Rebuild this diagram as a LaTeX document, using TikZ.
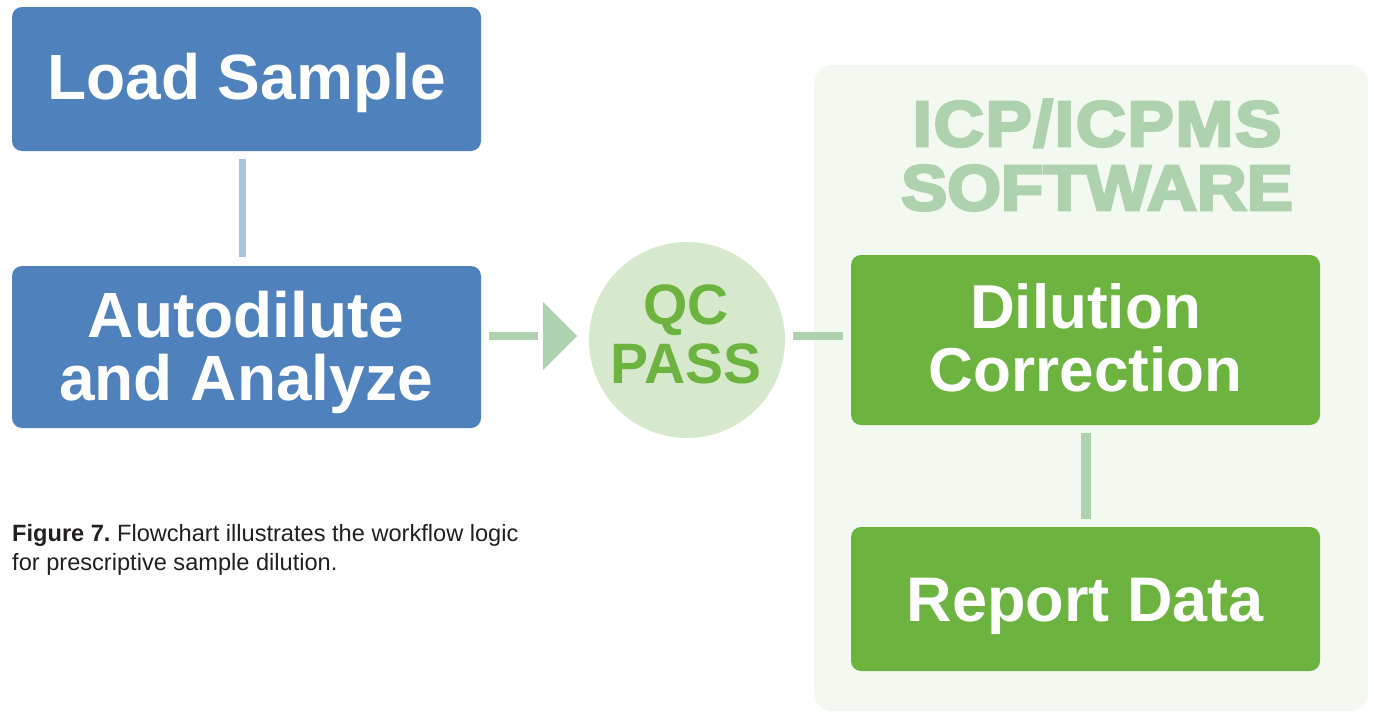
\documentclass[tikz,border=0pt]{standalone}
\usepackage{fontspec}
\setmainfont{Liberation Sans}
\newfontfamily\heavyfont{Liberation Sans}[BoldFeatures={FakeBold=4.5,FakeStretch=1.08}]
\frenchspacing
\definecolor{boxblue}{HTML}{4F81BD}
\definecolor{connblue}{HTML}{A9C4E2}
\definecolor{boxgreen}{HTML}{6DB33F}
\definecolor{circlegreen}{HTML}{D7E9CC}
\definecolor{conngreen}{HTML}{AED2AD}
\definecolor{panelgreen}{HTML}{F3F8F1}
\definecolor{captiongray}{HTML}{231F20}
\tikzset{
  stepbox/.style={rectangle, rounded corners=10pt, inner sep=0pt, minimum width=469pt},
  bluebox/.style={stepbox, fill=boxblue},
  greenbox/.style={stepbox, fill=boxgreen},
  boxtext/.style={text=white, font=\bfseries\fontsize{64}{63}\selectfont, align=center, inner sep=0pt, anchor=base},
  qctext/.style={text=boxgreen, font=\bfseries\fontsize{57}{59}\selectfont, align=center, inner sep=0pt, anchor=base},
  titletext/.style={text=conngreen, font=\heavyfont\bfseries\fontsize{64}{64}\selectfont, align=center, inner sep=0pt, anchor=base},
  bconn/.style={draw=connblue, line width=7pt},
  gconn/.style={draw=conngreen, line width=8pt},
}
\begin{document}
\begin{tikzpicture}[x=1pt,y=-1pt]
\useasboundingbox (0,0) rectangle (1374,712);

% software panel (multi-line labels are placed by their last baseline)
\node (panel) [rectangle, fill=panelgreen, rounded corners=18pt, inner sep=0pt,
  minimum width=554pt, minimum height=646pt, anchor=north west] at (814,65) {};
\node (titletxt) [titletext] at (1097,210) {{\addfontfeature{LetterSpace=3}ICP/ICPMS}\\SOFTWARE};

% instrument steps
\node (load) [bluebox, minimum height=144pt] at (246.5,79) {};
\node (loadtxt) [boxtext] at (246.5,99) {Load Sample};
\node (auto) [bluebox, minimum height=162pt] at (246.5,347) {};
\node (autotxt) [boxtext] at (246,400) {Autodilute\\and Analyze};

% QC decision
\node (qc) [circle, fill=circlegreen, minimum size=196pt, inner sep=0pt] at (687,340) {};
\node (qctxt) [qctext] at (686,383) {QC\\PASS};

% software steps
\node (dil) [greenbox, minimum height=170pt] at (1085.5,340) {};
\node (diltxt) [boxtext, font=\bfseries\fontsize{62}{63}\selectfont] at (1085.5,391) {Dilution\\Correction};
\node (rep) [greenbox, minimum height=144pt] at (1085.5,599) {};
\node (reptxt) [boxtext, font=\bfseries\fontsize{63}{63}\selectfont] at (1085.5,621) {Report Data};

% connectors
\draw[bconn, shorten <=8pt, shorten >=9pt] ([xshift=-4pt]load.south) -- ([xshift=-4pt]auto.north);
\draw[gconn, shorten <=8pt] ([yshift=11pt]auto.east) -- ++(57,0) coordinate (tail);
\coordinate (tribase) at ([xshift=5pt]tail);
\fill[conngreen] (tribase) -- ++(0,-34) -- ++(34,34) -- ++(-34,34) -- cycle;
\draw[gconn, shorten <=8pt, shorten >=8pt] ([yshift=4pt]qc.east) -- ([yshift=4pt]dil.west);
\draw[gconn, line width=10pt, shorten <=8pt, shorten >=8pt] (dil.south) -- (rep.north);

% caption
\node (caption) [anchor=base west, align=left, inner sep=0pt, text=captiongray,
  font=\fontsize{23.6}{29}\selectfont] at (12,570)
  {\textbf{Figure 7.} Flowchart illustrates the workflow logic\\for prescriptive sample dilution.};
\end{tikzpicture}
\end{document}
